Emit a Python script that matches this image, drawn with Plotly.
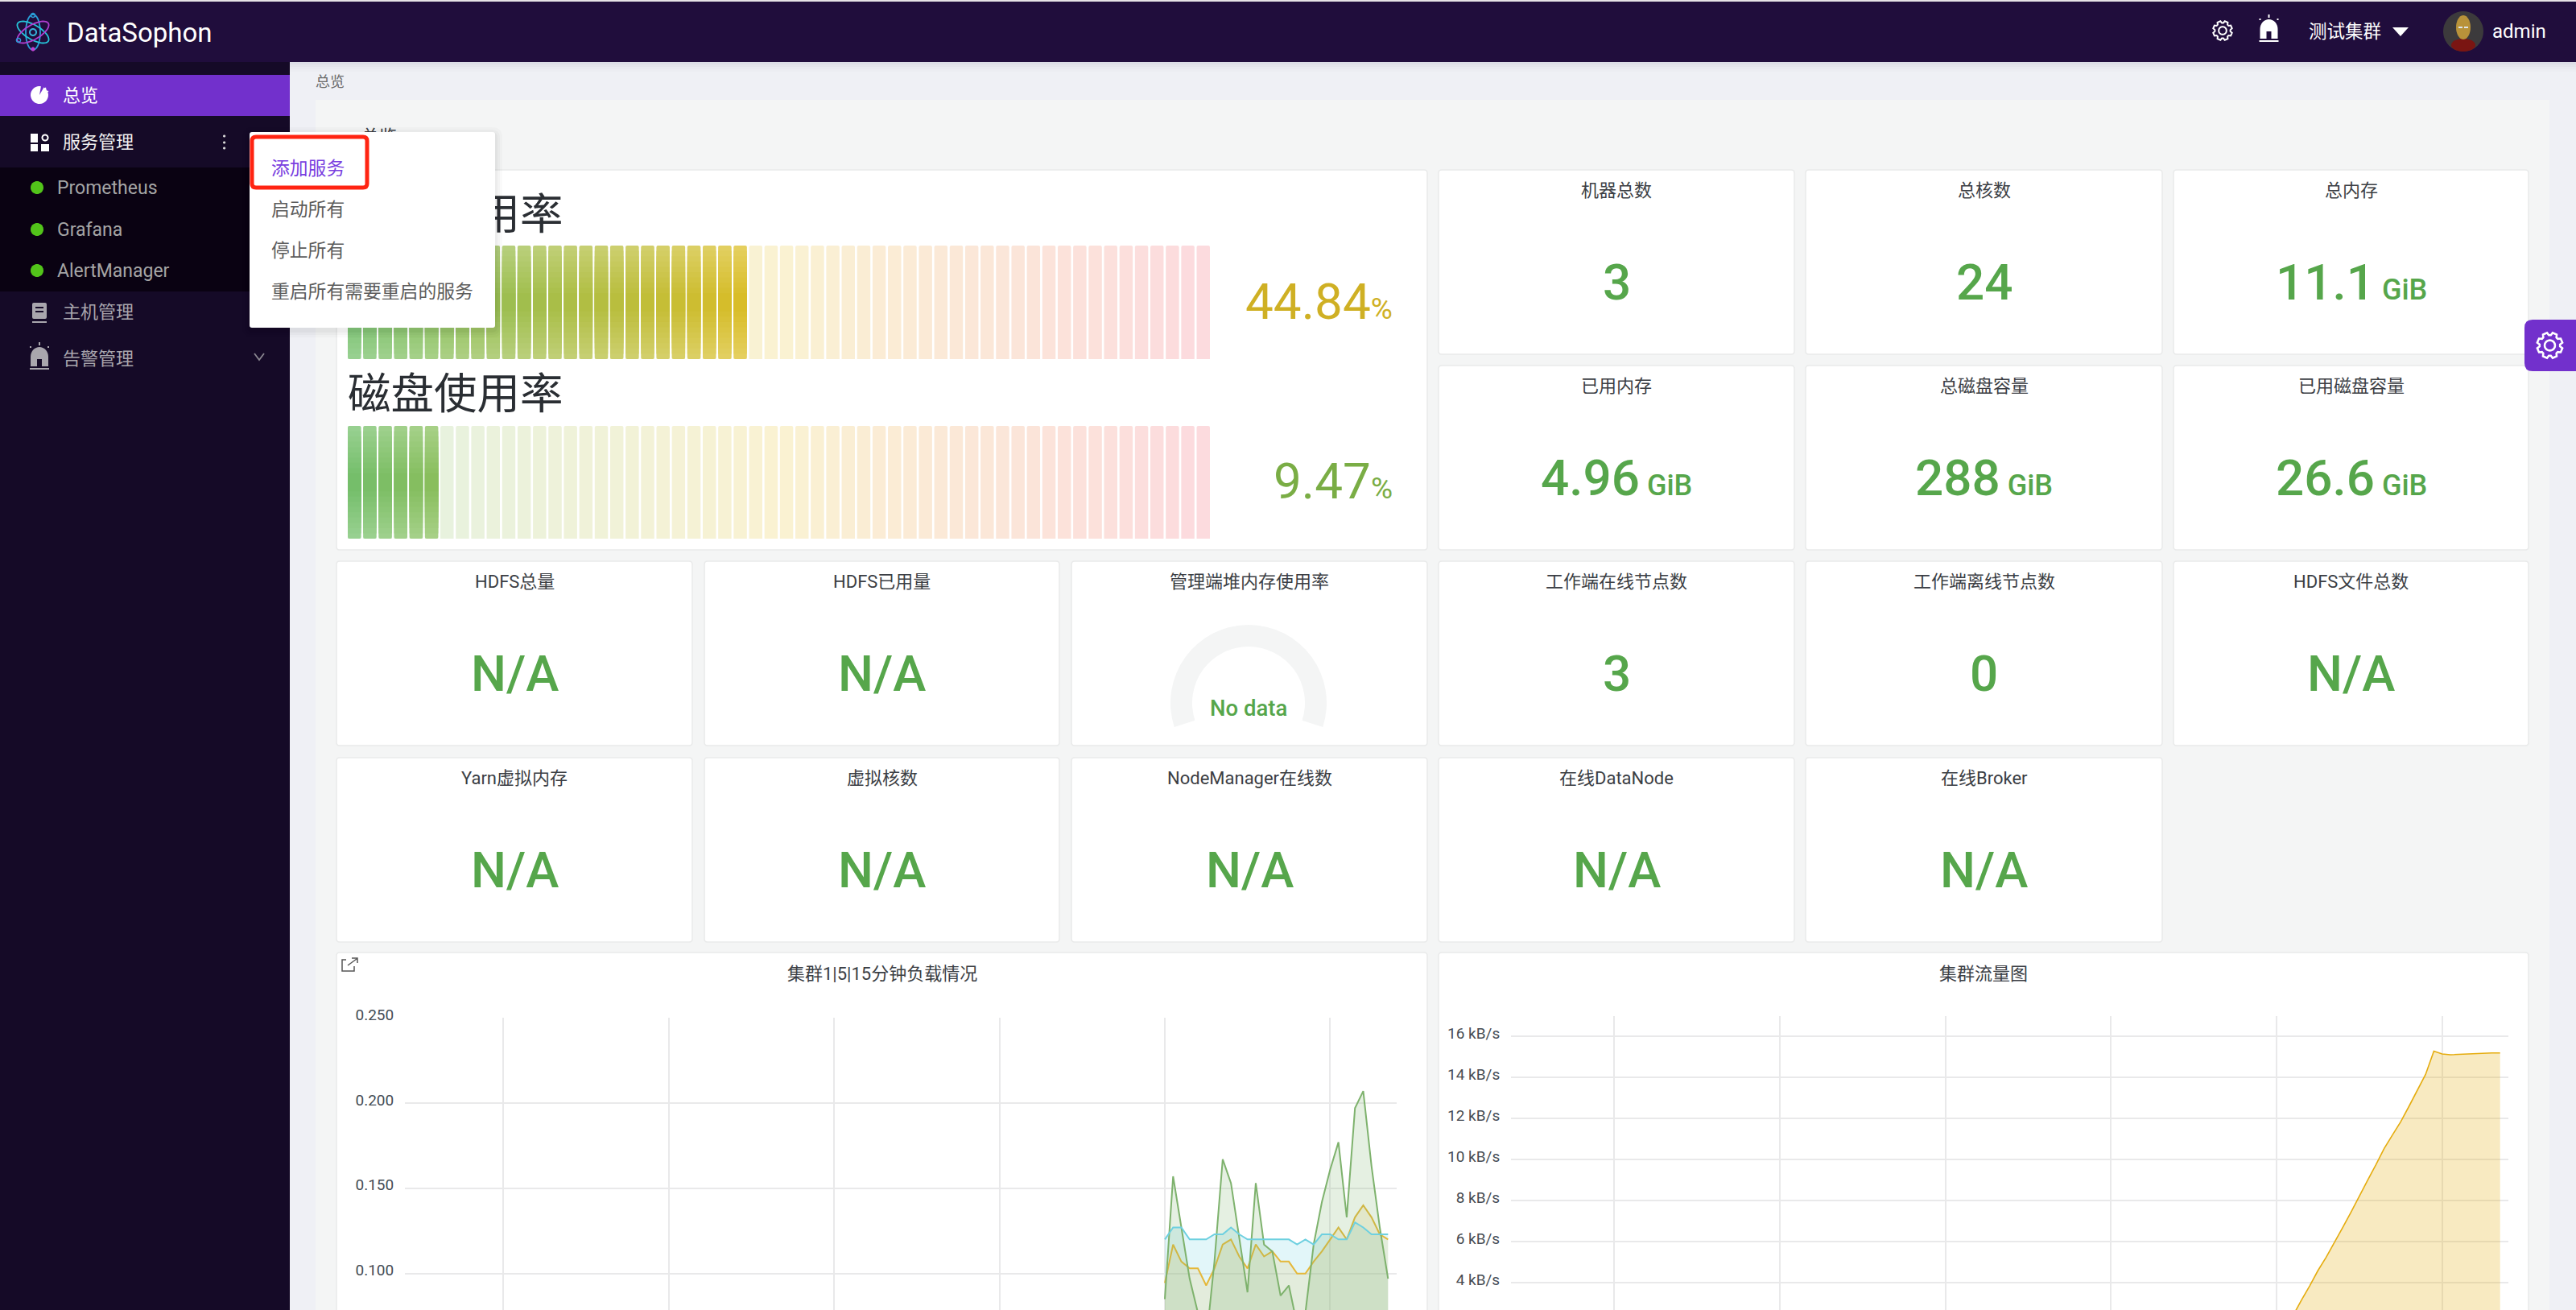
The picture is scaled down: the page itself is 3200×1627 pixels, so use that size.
import math
import plotly.graph_objects as go

W, H = 3200, 1627

# ---------------- data ----------------
load_15m = [0.120, 0.127, 0.127, 0.120, 0.120, 0.120, 0.123, 0.123, 0.127, 0.123, 0.120, 0.120, 0.120, 0.120,
            0.120, 0.120, 0.117, 0.120, 0.117, 0.123, 0.123, 0.120, 0.120, 0.130, 0.127, 0.123, 0.123, 0.123]
load_5m = [0.0945, 0.117, 0.107, 0.103, 0.103, 0.093, 0.103, 0.117, 0.120, 0.110, 0.103, 0.117, 0.110, 0.113,
           0.107, 0.107, 0.100, 0.100, 0.107, 0.113, 0.120, 0.127, 0.120, 0.133, 0.140, 0.133, 0.123, 0.120]
load_1m = [0.085, 0.157, 0.127, 0.097, 0.077, 0.060, 0.107, 0.167, 0.153, 0.120, 0.089, 0.153, 0.117, 0.113,
           0.087, 0.093, 0.070, 0.077, 0.117, 0.142, 0.161, 0.177, 0.133, 0.197, 0.207, 0.163, 0.127, 0.097]
traffic = [0.95, 1.7, 2.4, 3.15, 3.85, 4.6, 5.25, 5.95, 6.7, 7.45, 8.25, 9.0, 9.75, 10.55,
           11.2, 11.85, 12.6, 13.35, 14.15, 15.29, 15.15, 15.11, 15.13, 15.15, 15.18, 15.2, 15.2, 15.2]
samples = list(range(28))

cpu_title, disk_title = "内存使用率", "磁盘使用率"
cpu_usage, disk_usage = 44.84, 9.47
segments = list(range(56))

card_titles = [
    ["机器总数", "总核数", "总内存"],
    ["已用内存", "总磁盘容量", "已用磁盘容量"],
    ["HDFS总量", "HDFS已用量", "管理端堆内存使用率", "工作端在线节点数", "工作端离线节点数", "HDFS文件总数"],
    ["Yarn虚拟内存", "虚拟核数", "NodeManager在线数", "在线DataNode", "在线Broker"],
]
card_numbers = [
    ["3", "24", "11.1"],
    ["4.96", "288", "26.6"],
    ["N/A", "N/A", "", "3", "0", "N/A"],
    ["N/A", "N/A", "N/A", "N/A", "N/A"],
]
card_units = [
    ["", "", "GiB"],
    ["GiB", "GiB", "GiB"],
    ["", "", "", "", "", ""],
    ["", "", "", "", ""],
]
menu_items = ["添加服务", "启动所有", "停止所有", "重启所有需要重启的服务"]
services = ["Prometheus", "Grafana", "AlertManager"]

# ---------------- styling ----------------
CJK = "Roboto, 'Noto Sans CJK SC', sans-serif"
HEADER = "#200d3c"
SIDE = "#150a27"
SUB = "#0a0212"
PURPLE = "#7230cc"
CONTENT = "#eff0f5"
INNER = "#f4f5f5"
GREEN = "#56a64b"
col_x = [(418, 860), (875, 1316), (1331, 1773), (1787, 2229), (2243, 2686), (2700, 3141)]
row_y = [(211, 440), (454, 683), (697, 926), (941, 1170)]

shapes, annos = [], []


def rect(x0, y0, x1, y1, fill, layer="below"):
    shapes.append(dict(type="rect", xref="x", yref="y", x0=x0, y0=y0, x1=x1, y1=y1, fillcolor=fill, layer=layer,
                       line=dict(color="rgba(0,0,0,0)", width=0)))


def path(d, fill="rgba(0,0,0,0)", line=None, lw=0, layer="above"):
    shapes.append(dict(type="path", xref="x", yref="y", path=d, fillcolor=fill, layer=layer,
                       line=dict(color=line or "rgba(0,0,0,0)", width=lw)))


def poly(pts, close=True):
    return "M" + " L".join(f"{x:.1f},{y:.1f}" for x, y in pts) + (" Z" if close else "")


def rrect(x0, y0, x1, y1, r):
    return (f"M{x0+r},{y0} L{x1-r},{y0} Q{x1},{y0} {x1},{y0+r} L{x1},{y1-r} Q{x1},{y1} {x1-r},{y1} "
            f"L{x0+r},{y1} Q{x0},{y1} {x0},{y1-r} L{x0},{y0+r} Q{x0},{y0} {x0+r},{y0} Z")


def arc_pts(cx, cy, rx, ry, a0, a1, n=40):
    return [(cx + rx * math.cos(math.radians(a0 + (a1 - a0) * k / n)),
             cy + ry * math.sin(math.radians(a0 + (a1 - a0) * k / n))) for k in range(n + 1)]


def circle(cx, cy, r, ry=None):
    return poly(arc_pts(cx, cy, r, ry or r, 0, 360)[:-1])


def text(x, y, s, size, color, anchor="left", family=CJK, weight=None):
    f = dict(size=size, color=color, family=family)
    if weight:
        f["weight"] = weight
    annos.append(dict(x=x, y=y, xref="x", yref="y", text=s, showarrow=False, xanchor=anchor, yanchor="middle",
                      font=f, borderpad=0, borderwidth=0))


def gear(cx, cy, r, color, lw):
    pts = []
    for k in range(8):
        a = 2 * math.pi * k / 8 + math.pi / 8
        for da, rr in ((-0.3, 0.8), (-0.17, 1.0), (0.17, 1.0), (0.3, 0.8)):
            pts.append((cx + rr * r * math.cos(a + da), cy + rr * r * math.sin(a + da)))
    path(poly(pts), line=color, lw=lw)
    path(circle(cx, cy, r * 0.4), line=color, lw=lw)


def alarm(cx, cy, color):
    dome = arc_pts(cx, cy, 11, 12, 180, 360, 16)
    pts = [(cx - 11, cy + 12)] + dome + [(cx + 11, cy + 12), (cx + 3, cy + 12), (cx + 3, cy + 3),
                                         (cx - 3, cy + 3), (cx - 3, cy + 12)]
    path(poly(pts), fill=color)
    rect(cx - 12, cy + 14, cx + 12, cy + 16, color, layer="above")
    rect(cx - 1, cy - 18, cx + 1, cy - 14, color, layer="above")
    rect(cx - 12, cy - 13, cx - 10, cy - 11, color, layer="above")
    rect(cx + 10, cy - 13, cx + 12, cy - 11, color, layer="above")


def ellipse_rot(cx, cy, a, b, deg):
    t = math.radians(deg)
    pts = []
    for k in range(48):
        u = 2 * math.pi * k / 48
        x, y = a * math.cos(u), b * math.sin(u)
        pts.append((cx + x * math.cos(t) - y * math.sin(t), cy + x * math.sin(t) + y * math.cos(t)))
    return poly(pts)


# ---------------- page frame ----------------
rect(0, 0, W, H, CONTENT)
rect(392, 124, 3167, H, INNER)
for k, c in enumerate(["#dcdde6", "#e3e4ea", "#e8e9ef", "#ecedf2"]):
    rect(360, 77 + 3 * k, W, 80 + 3 * k, c)
rect(0, 0, W, 2, "#e6e2e6")
rect(0, 2, W, 77, HEADER)
rect(0, 77, 360, H, SIDE)
rect(0, 93, 360, 144, PURPLE)
rect(0, 208, 360, 362, SUB)

# cards
for r, titles in enumerate(card_titles):
    offset = 3 if r < 2 else 0
    for c, t in enumerate(titles):
        x0, x1 = col_x[c + offset]
        y0, y1 = row_y[r]
        path(rrect(x0, y0, x1, y1, 4), fill="#ffffff", line="#e9eaea", lw=1.5, layer="below")
        cx = (x0 + x1) / 2
        text(cx, y0 + 25, t, 22, "#3b3e44", "center")
        num, unit = card_numbers[r][c], card_units[r][c]
        if num:
            s = num + (f'<span style="font-size:36px"> {unit}</span>' if unit else "")
            text(cx, y0 + 139, s, 62, GREEN, "center", weight=500)
path(rrect(418, 211, 1773, 683, 4), fill="#ffffff", line="#e9eaea", lw=1.5, layer="below")
path(rrect(418, 1183, 1773, H + 20, 4), fill="#ffffff", line="#e9eaea", lw=1.5, layer="below")
path(rrect(1787, 1183, 3141, H + 20, 4), fill="#ffffff", line="#e9eaea", lw=1.5, layer="below")

text(392, 101, "总览", 18, "#6a6a6a")
text(1096, 1209, "集群1|5|15分钟负载情况", 22, "#3b3e44", "center")
text(2464, 1209, "集群流量图", 22, "#3b3e44", "center")

# share icon
path("M430,1192 L425,1192 L425,1206 L440,1206 L440,1200", line="#555555", lw=1.5)
path("M432,1199 L443,1191 M437,1190 L444,1190 L444,1196", line="#555555", lw=1.5)

# gauge percent values
text(1730, 374, f'{cpu_usage}<span style="font-size:37px">%</span>', 62, "#cfb024", "right", weight=400)
text(1730, 597, f'{disk_usage}<span style="font-size:37px">%</span>', 62, "#7aad45", "right", weight=400)
text(1551, 879, "No data", 27.5, GREEN, "center", weight=500)

# ---------------- header and sidebar ----------------
for deg, col in ((90, "#2a9fd8"), (30, "#25c4d8"), (150, "#b03fd0")):
    path(ellipse_rot(41, 40, 22, 9, deg), line=col, lw=1.8)
path(circle(41, 40, 4), line="#35b0d8", lw=2)
path(circle(41, 19, 2.5), line="#2a9fd8", lw=1.5)
path(circle(41, 61, 2.5), fill="#c040d0")
path(circle(23, 50, 2.5), line="#2a9fd8", lw=1.5)
text(83, 40, "DataSophon", 33, "#ffffff", family="Roboto", weight=400)

gear(2761, 38, 12, "#ffffff", 2)
alarm(2818.5, 36, "#ffffff")
text(2868, 39, "测试集群", 22.5, "#ffffff")
path("M2972,34 L2992,34 L2982,45 Z", fill="#ffffff")
path(circle(3060, 39, 25), fill="#3c3a3c")
path(circle(3060, 56, 15, 8), fill="#7a1512")
path(circle(3060, 34, 9, 15), fill="#b8923a")
rect(3054, 33, 3059, 35, "#dfe6ea", layer="above")
rect(3061, 33, 3066, 35, "#dfe6ea", layer="above")
text(3096, 39, "admin", 24, "#ffffff", family="Roboto")

# settings tab
path("M3200,397 L3146,397 Q3136,397 3136,407 L3136,451 Q3136,461 3146,461 L3200,461 Z", fill=PURPLE)
gear(3167.5, 429, 16, "#ffffff", 2.6)

# sidebar items
text(78, 118, "总览", 22, "#ffffff")
text(78, 176, "服务管理", 22, "#f0f0f0")
text(78, 387, "主机管理", 22, "#a9a6ad")
text(78, 445, "告警管理", 22, "#a9a6ad")
for svc, yy in zip(services, (233, 285, 336)):
    path(circle(46, yy, 8), fill="#52c41a")
    text(71, yy, svc, 23, "#a5a5a5", family="Roboto")

# sidebar icons
path(poly([(49, 118)] + arc_pts(49, 118, 11, 11, -60, 280, 30)), fill="#ffffff")
path("M52,116 L57,109 M53,118 L60,113", line="#ffffff", lw=1.5)
rect(38, 166, 47, 177, "#ffffff", layer="above")
rect(38, 179, 47, 188, "#ffffff", layer="above")
rect(51, 179, 61, 188, "#ffffff", layer="above")
path(circle(56, 171, 3.5), line="#ffffff", lw=2)
path(rrect(40, 376, 58, 396, 2), fill="#a9a6ad")
rect(44, 381, 54, 383, SIDE, layer="above")
rect(44, 386, 54, 388, SIDE, layer="above")
rect(40, 399, 58, 401, "#a9a6ad", layer="above")
alarm(49, 443, "#a9a6ad")
path("M316,439 L322,447 L328,439", line="#8a8790", lw=1.8)
for yy in (169, 177, 184):
    path(circle(278.6, yy, 1.6), fill="#d8d8d8")

# ---------------- popup menu (covers the bars and the first title) ----------------
for k, c in enumerate(["rgba(0,0,0,0.02)", "rgba(0,0,0,0.025)", "rgba(0,0,0,0.03)"]):
    grow = 9 - 3 * k
    path(rrect(310 - grow, 164 - grow + 3, 615 + grow, 407 + grow + 3, 4 + grow), fill=c)
path(rrect(310, 164, 615, 407, 3), fill="#ffffff")
path(rrect(313, 170, 456, 233, 5), line="#ff2412", lw=5)
for s, yy, col in zip(menu_items, (209, 260, 311, 362), ("#7a3fe0", "#5c5c5c", "#5c5c5c", "#5c5c5c")):
    text(337, yy, s, 22.8, col)


# ---------------- traces ----------------
def mix(a, b, t):
    return tuple(a[k] + (b[k] - a[k]) * t for k in range(3))


G, Y, R = (115, 191, 105), (230, 190, 30), (242, 73, 92)


def seg_rgb(i):
    t = i / (len(segments) - 1)
    return mix(G, Y, t / 0.5) if t < 0.5 else mix(Y, R, (t - 0.5) / 0.5)


def css(c):
    return "rgb(%d,%d,%d)" % tuple(round(v) for v in c)


WHITE = (255, 255, 255)
fig = go.Figure()

# hidden texts that the popup covers: a trace, so that the popup shape lies on top
fig.add_trace(go.Scatter(x=[432, 449], y=[272, 171], text=[cpu_title, "总览"], mode="text", xaxis="x", yaxis="y",
                         textposition="middle right", cliponaxis=False, hoverinfo="skip",
                         textfont=dict(size=[53.5, 22], color=["#2a2e33", "#3b3e44"], family=CJK), showlegend=False))
text(432, 489, disk_title, 53.5, "#2a2e33")


def gauge(usage, xa, ya):
    lit = math.ceil(usage / 100 * len(segments))
    fig.add_trace(go.Bar(x=segments, y=[1] * len(segments), width=0.86, xaxis=xa, yaxis=ya, showlegend=False,
                         hoverinfo="skip", marker=dict(color=[css(mix(WHITE, seg_rgb(i), 0.2)) for i in segments],
                                                       cornerradius=2, line=dict(width=0))))
    layers = 10
    for k in range(layers):
        f = k / (layers - 1)
        strength = 0.74 + 0.24 * f
        dark = 0.02 * f
        cols = [css(mix(mix(WHITE, seg_rgb(i), strength), (60, 90, 20), dark)) for i in segments[:lit]]
        d = 0.42 * f
        fig.add_trace(go.Bar(x=segments[:lit], y=[1 - 2 * d] * lit, base=[d] * lit, width=0.86, xaxis=xa, yaxis=ya,
                             showlegend=False, hoverinfo="skip",
                             marker=dict(color=cols, line=dict(width=0), cornerradius=2 if k == 0 else 0)))


gauge(cpu_usage, "x2", "y2")
gauge(disk_usage, "x3", "y3")


def area(x, y, col, fill, xa, ya, lw=2, mode="lines"):
    fig.add_trace(go.Scatter(x=x, y=y, mode=mode, line=dict(color=col, width=lw),
                             fill="tozeroy" if fill else None, fillcolor=fill,
                             xaxis=xa, yaxis=ya, showlegend=False, hoverinfo="skip"))


area(samples, load_15m, "rgba(0,0,0,0)", "rgba(110,208,224,0.2)", "x4", "y4", lw=0)
area(samples, load_5m, "#e5b83a", "rgba(234,184,57,0.15)", "x4", "y4")
area(samples, load_1m, "#7eb26d", "rgba(126,178,109,0.2)", "x4", "y4")
area(samples, load_15m, "#6ed0e0", None, "x4", "y4")
area(samples, traffic, "#e5ac0e", "rgba(229,172,14,0.26)", "x5", "y5", lw=1.6)

fig.add_trace(go.Pie(values=[216, 144], sort=False, direction="clockwise", rotation=252, hole=70 / 97,
                     marker=dict(colors=["#f4f5f5", "rgba(0,0,0,0)"], line=dict(width=0)), textinfo="none",
                     hoverinfo="skip", showlegend=False, automargin=False,
                     domain=dict(x=[(1551 - 97) / W, (1551 + 97) / W], y=[1 - (873 + 97) / H, 1 - (873 - 97) / H])))


def xdom(a, b):
    return [a / W, b / W]


def ydom(t, b):
    return [max(0, 1 - b / H), 1 - t / H]


hidden = dict(visible=False, fixedrange=True, automargin=False)
tickfont = dict(size=19, color="#464c54", family="Roboto")
grid_h = dict(showgrid=True, gridcolor="#e9e9ea", gridwidth=2, zeroline=False, showline=False, ticks="outside",
              ticklen=9, tickcolor="rgba(0,0,0,0)", tickfont=tickfont, fixedrange=True, automargin=False,
              ticklabelshift=-4)
grid_v = dict(showgrid=True, gridcolor="#e9e9ea", gridwidth=1.5, zeroline=False, showline=False, showticklabels=False,
              ticks="", fixedrange=True, automargin=False)

fig.update_layout(
    width=W, height=H, autosize=False, margin=dict(l=0, r=0, t=0, b=0, pad=0, autoexpand=False),
    paper_bgcolor=CONTENT, plot_bgcolor="rgba(0,0,0,0)", barmode="overlay", showlegend=False,
    xaxis=dict(domain=[0, 1], range=[0, W], **hidden),
    yaxis=dict(domain=[0, 1], range=[H, 0], **hidden),
    xaxis2=dict(domain=xdom(432, 1503), range=[-0.43, 55.43], anchor="y2", **hidden),
    yaxis2=dict(domain=ydom(305, 446), range=[0, 1], anchor="x2", **hidden),
    xaxis3=dict(domain=xdom(432, 1503), range=[-0.43, 55.43], anchor="y3", **hidden),
    yaxis3=dict(domain=ydom(529, 669), range=[0, 1], anchor="x3", **hidden),
    xaxis4=dict(domain=xdom(503, 1735), range=[(503 - 1447) / 10.27, (1735 - 1447) / 10.27], anchor="y4",
                tick0=0, dtick=20, **grid_v),
    yaxis4=dict(domain=ydom(1264, H), range=[0.25 - (H - 1264) / 2118, 0.25], anchor="x4", tick0=0, dtick=0.05,
                tickformat=".3f", **grid_h),
    xaxis5=dict(domain=xdom(1877, 3116), range=[(1877 - 2828) / 10.285, (3116 - 2828) / 10.285], anchor="y5",
                tick0=0, dtick=20, **grid_v),
    yaxis5=dict(domain=ydom(1262, H), range=[4 - (H - 1593.3) / 25.5, 16 + (1287.3 - 1262) / 25.5], anchor="x5",
                tick0=0, dtick=2, ticksuffix=" kB/s", **grid_h),
    shapes=shapes, annotations=annos,
)

fig.write_html("out.html", config=dict(displayModeBar=False),
               post_script="document.body.style.margin='0';document.body.style.overflow='hidden';")
